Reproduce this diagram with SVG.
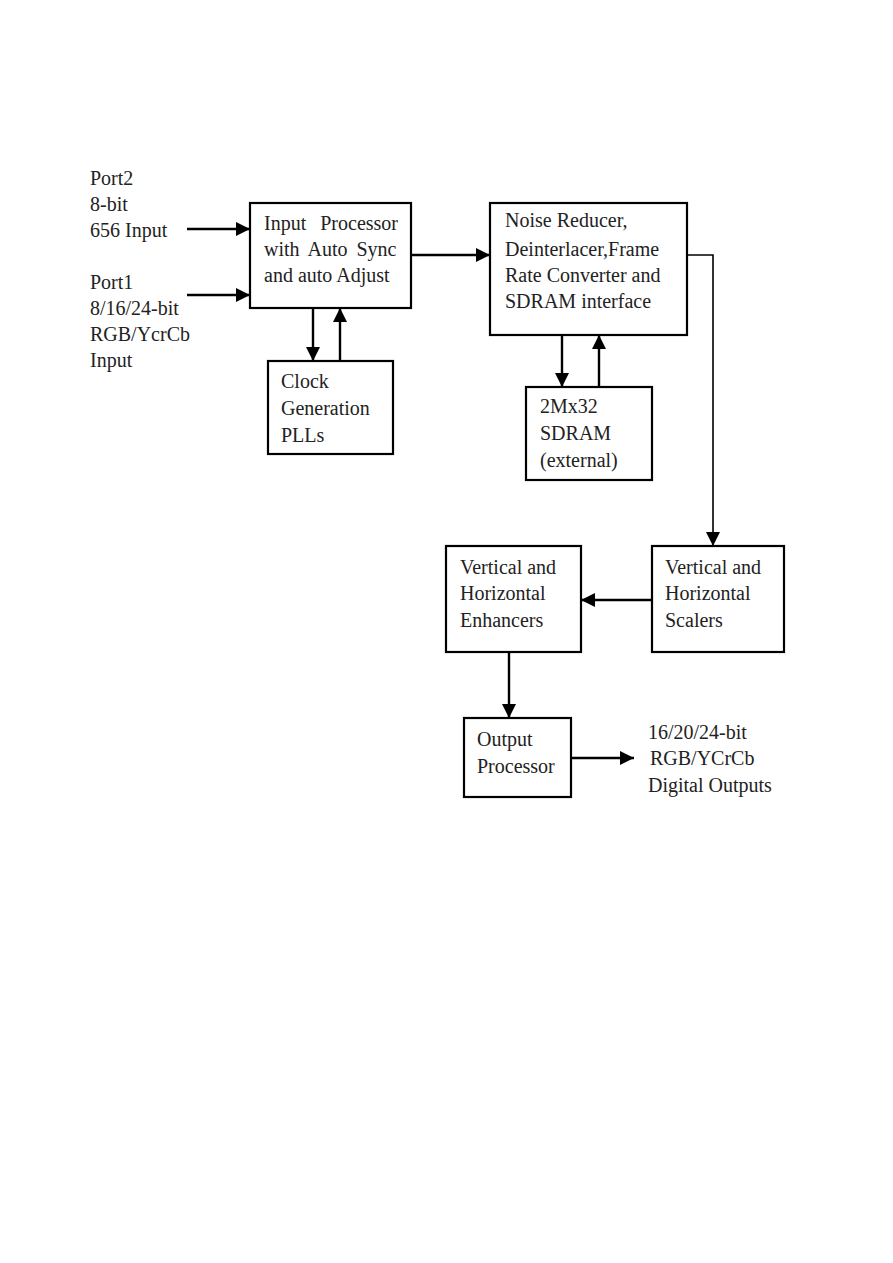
<svg xmlns="http://www.w3.org/2000/svg" width="893" height="1263" viewBox="0 0 893 1263">
<style>
.box{fill:#fff;stroke:#000;stroke-width:2.2}
.t{font-family:"Liberation Serif","Times New Roman",serif;font-size:20px;fill:#222}
.c{fill:none;stroke:#000;stroke-width:2.4}
.thin{fill:none;stroke:#000;stroke-width:1.6}
</style>
<defs>
<marker id="ah" viewBox="0 0 14 14" refX="14" refY="7" markerWidth="14" markerHeight="14" markerUnits="userSpaceOnUse" orient="auto">
<path d="M0,0 L14,7 L0,14 Z" fill="#000"/>
</marker>
</defs>
<rect width="893" height="1263" fill="#fff"/>
<g id="labels-in">
<text class="t" x="90" y="185">Port2</text>
<text class="t" x="90" y="211">8-bit</text>
<text class="t" x="90" y="237">656 Input</text>
<text class="t" x="90" y="289">Port1</text>
<text class="t" x="90" y="315">8/16/24-bit</text>
<text class="t" x="90" y="341">RGB/YcrCb</text>
<text class="t" x="90" y="367">Input</text>
</g>
<g id="input-processor">
<rect class="box" x="250" y="203" width="161" height="105"/>
<text class="t" x="264" y="230" style="word-spacing:9px">Input Processor</text>
<text class="t" x="264" y="256" style="word-spacing:4px">with Auto Sync</text>
<text class="t" x="264" y="282">and auto Adjust</text>
</g>
<g id="clock">
<rect class="box" x="268" y="361" width="125" height="93"/>
<text class="t" x="281" y="388">Clock</text>
<text class="t" x="281" y="415">Generation</text>
<text class="t" x="281" y="442">PLLs</text>
</g>
<g id="noise-reducer">
<rect class="box" x="490" y="203" width="197" height="132"/>
<text class="t" x="505" y="227">Noise Reducer,</text>
<text class="t" x="505" y="256">Deinterlacer,Frame</text>
<text class="t" x="505" y="282">Rate Converter and</text>
<text class="t" x="505" y="308">SDRAM interface</text>
</g>
<g id="sdram">
<rect class="box" x="526" y="387" width="126" height="93"/>
<text class="t" x="540" y="413">2Mx32</text>
<text class="t" x="540" y="440">SDRAM</text>
<text class="t" x="540" y="467">(external)</text>
</g>
<g id="enhancers">
<rect class="box" x="446" y="546" width="135" height="106"/>
<text class="t" x="460" y="574">Vertical and</text>
<text class="t" x="460" y="600">Horizontal</text>
<text class="t" x="460" y="627">Enhancers</text>
</g>
<g id="scalers">
<rect class="box" x="652" y="546" width="132" height="106"/>
<text class="t" x="665" y="574">Vertical and</text>
<text class="t" x="665" y="600">Horizontal</text>
<text class="t" x="665" y="627">Scalers</text>
</g>
<g id="output-processor">
<rect class="box" x="464" y="718" width="107" height="79"/>
<text class="t" x="477" y="746">Output</text>
<text class="t" x="477" y="773">Processor</text>
</g>
<g id="labels-out">
<text class="t" x="648" y="739">16/20/24-bit</text>
<text class="t" x="650" y="765">RGB/YCrCb</text>
<text class="t" x="648" y="792">Digital Outputs</text>
</g>
<g id="connectors">
<line class="c" x1="187" y1="229" x2="250" y2="229" marker-end="url(#ah)"/>
<line class="c" x1="187" y1="295" x2="250" y2="295" marker-end="url(#ah)"/>
<line class="c" x1="313" y1="308" x2="313" y2="361" marker-end="url(#ah)"/>
<line class="c" x1="340" y1="361" x2="340" y2="308" marker-end="url(#ah)"/>
<line class="c" x1="411" y1="255" x2="490" y2="255" marker-end="url(#ah)"/>
<line class="c" x1="562" y1="335" x2="562" y2="387" marker-end="url(#ah)"/>
<line class="c" x1="599" y1="387" x2="599" y2="335" marker-end="url(#ah)"/>
<polyline class="thin" points="687,255 713,255 713,546" marker-end="url(#ah)"/>
<line class="c" x1="652" y1="600" x2="581" y2="600" marker-end="url(#ah)"/>
<line class="c" x1="509" y1="652" x2="509" y2="718" marker-end="url(#ah)"/>
<line class="c" x1="571" y1="758" x2="634" y2="758" marker-end="url(#ah)"/>
</g>
</svg>
